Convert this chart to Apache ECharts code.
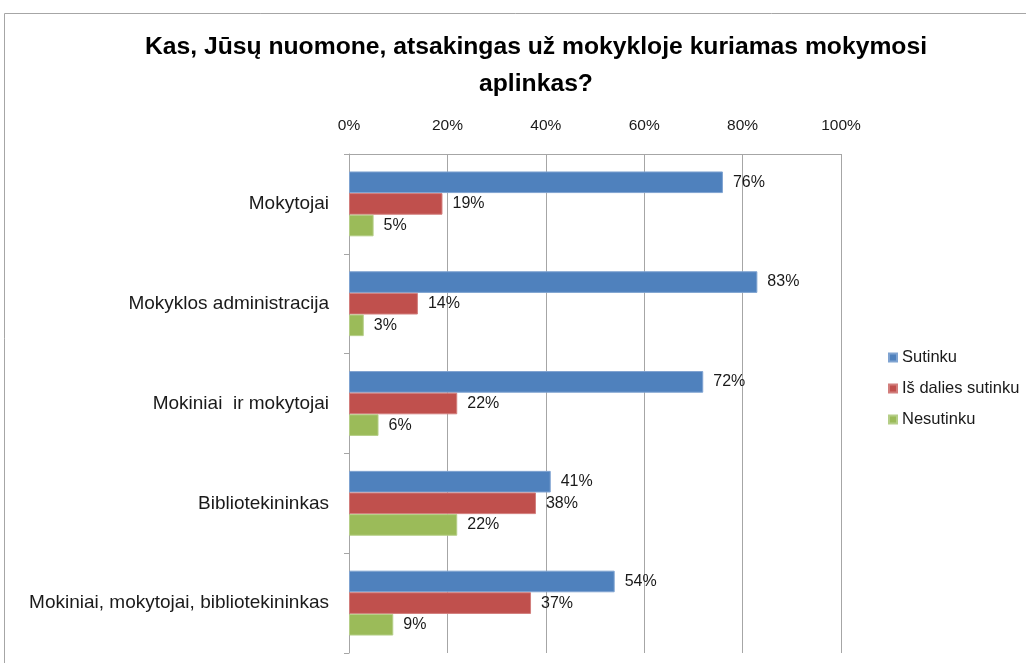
<!DOCTYPE html>
<html>
<head>
<meta charset="utf-8">
<script src="https://cdn.jsdelivr.net/npm/echarts@6/dist/echarts.min.js"></script>
<style>
  html, body { margin: 0; padding: 0; background: #ffffff; }
  #chart { width: 1026px; height: 663px; }
</style>
</head>
<body>
<div id="chart"></div>
<script>
// Respondent groups and answer shares (%)
const categories = [
  'Mokytojai',
  'Mokyklos administracija',
  'Mokiniai  ir mokytojai',
  'Bibliotekininkas',
  'Mokiniai, mokytojai, bibliotekininkas'
];
const seriesNames = ['Sutinku', 'Iš dalies sutinku', 'Nesutinku'];
const sutinku = [76, 83, 72, 41, 54];
const isDaliesSutinku = [19, 14, 22, 38, 37];
const nesutinku = [5, 3, 6, 22, 9];
const seriesValues = [sutinku, isDaliesSutinku, nesutinku];
const colors = ['#4F81BD', '#C0504D', '#9BBB59'];
const borderColors = ['#7FA3D1', '#D27E7C', '#B5CE87'];
const titleText = 'Kas, Jūsų nuomone, atsakingas už mokykloje kuriamas mokymosi\naplinkas?';

const FONT = '"Liberation Sans", Arial, sans-serif';
const chart = echarts.init(document.getElementById('chart'), null, { renderer: 'canvas' });

chart.setOption({
  animation: false,
  backgroundColor: '#ffffff',
  graphic: [{
    type: 'rect',
    shape: { x: 4.5, y: 13.5, width: 1200, height: 800 },
    style: { fill: 'none', stroke: '#a6a6a6', lineWidth: 1 },
    z: -1
  }],
  title: {
    text: titleText,
    left: 531,
    textAlign: 'center',
    top: 24,
    textStyle: {
      fontFamily: FONT,
      fontWeight: 'bold',
      fontSize: 24.7,
      lineHeight: 37,
      color: '#000000'
    }
  },
  legend: {
    orient: 'vertical',
    left: 883,
    top: 344,
    itemWidth: 8,
    itemHeight: 8,
    itemGap: 14,
    icon: 'rect',
    data: seriesNames,
    textStyle: { fontFamily: FONT, fontSize: 16.5, color: '#1a1a1a', padding: [0, 0, 0, 0] }
  },
  grid: { left: 349, right: 185, top: 154, bottom: 10, containLabel: false },
  xAxis: {
    type: 'value',
    position: 'top',
    min: 0,
    max: 100,
    interval: 20,
    axisLine: { show: true, lineStyle: { color: '#a6a6a6' } },
    axisTick: { show: false },
    splitLine: { show: true, lineStyle: { color: '#a6a6a6', width: 1 } },
    axisLabel: {
      formatter: '{value}%',
      fontFamily: FONT,
      fontSize: 15.5,
      color: '#1a1a1a',
      margin: 20
    }
  },
  yAxis: {
    type: 'category',
    inverse: true,
    data: categories,
    axisLine: { show: true, lineStyle: { color: '#a6a6a6' } },
    axisTick: { show: true, length: 5, lineStyle: { color: '#a6a6a6' } },
    axisLabel: {
      fontFamily: FONT,
      fontSize: 19,
      color: '#1a1a1a',
      margin: 20
    }
  },
  series: seriesValues.map((vals, i) => ({
    name: seriesNames[i],
    type: 'bar',
    data: vals,
    barGap: '0%',
    barCategoryGap: '35%',
    itemStyle: { color: colors[i], borderColor: borderColors[i], borderWidth: 1 },
    label: {
      show: true,
      position: 'right',
      distance: 10,
      formatter: '{c}%',
      fontFamily: FONT,
      fontSize: 16,
      color: '#1a1a1a'
    }
  }))
});
</script>
</body>
</html>
